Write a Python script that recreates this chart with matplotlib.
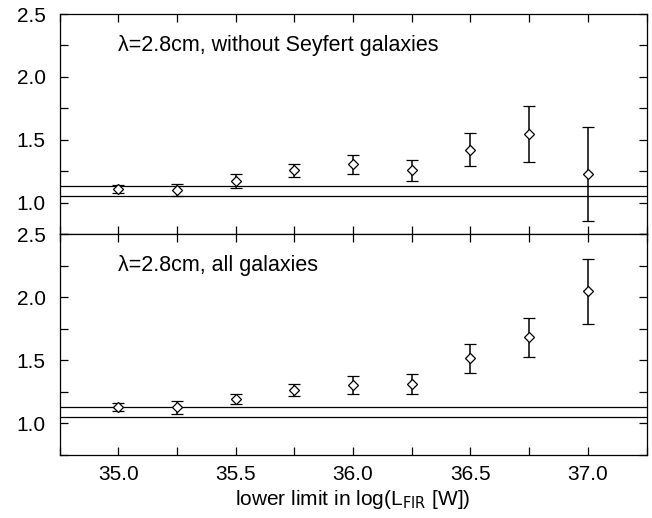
import matplotlib
matplotlib.use("Agg")
import matplotlib.pyplot as plt
from matplotlib.ticker import MultipleLocator

plt.rcParams['font.family'] = ['Liberation Sans', 'DejaVu Sans']

lum_limits = [35.0, 35.25, 35.5, 35.75, 36.0, 36.25, 36.5, 36.75, 37.0]

# lambda=2.8cm, without Seyfert galaxies
ratio_noseyf = [1.11, 1.10, 1.17, 1.26, 1.31, 1.26, 1.42, 1.545, 1.23]
upper_noseyf = [1.14, 1.15, 1.225, 1.31, 1.38, 1.335, 1.55, 1.77, 1.60]
lower_noseyf = [1.08, 1.055, 1.115, 1.20, 1.23, 1.175, 1.29, 1.32, 0.855]

# lambda=2.8cm, all galaxies
ratio_all = [1.13, 1.13, 1.19, 1.265, 1.305, 1.315, 1.515, 1.685, 2.045]
upper_all = [1.16, 1.175, 1.23, 1.315, 1.375, 1.395, 1.63, 1.835, 2.305]
lower_all = [1.10, 1.075, 1.15, 1.215, 1.235, 1.235, 1.40, 1.525, 1.785]

ref_levels = [1.13, 1.05]

panels = [
    ("\u03bb=2.8cm, without Seyfert galaxies", ratio_noseyf, lower_noseyf, upper_noseyf),
    ("\u03bb=2.8cm, all galaxies", ratio_all, lower_all, upper_all),
]

fig = plt.figure(figsize=(6.52, 5.18), dpi=100)
left, width = 59.5 / 652, (646.5 - 59.5) / 652
ax_top = fig.add_axes([left, 1 - 234 / 518, width, 220 / 518])
ax_bot = fig.add_axes([left, 1 - 455 / 518, width, 221 / 518])

for ax, (label, ratio, lo, hi) in zip([ax_top, ax_bot], panels):
    err = [[r - l for r, l in zip(ratio, lo)], [h - r for r, h in zip(ratio, hi)]]
    ax.errorbar(lum_limits, ratio, yerr=err, fmt='D', ms=5.5, mfc='white', mec='black',
                mew=0.9, ecolor='black', elinewidth=1.1, capsize=4.2, capthick=1.1, zorder=3)
    for lvl in ref_levels:
        ax.axhline(lvl, color='black', lw=0.9, zorder=2)
    ax.set_xlim(34.75, 37.25)
    ax.set_ylim(0.75, 2.5)
    ax.yaxis.set_major_locator(MultipleLocator(0.5))
    ax.yaxis.set_minor_locator(MultipleLocator(0.25))
    ax.xaxis.set_major_locator(MultipleLocator(0.5))
    ax.xaxis.set_minor_locator(MultipleLocator(0.25))
    ax.tick_params(which='both', direction='in', top=True, right=True, width=0.9, length=5.5)
    ax.tick_params(which='major', labelsize=15)
    ax.tick_params(axis='y', pad=10)
    ax.set_yticks([1.0, 1.5, 2.0, 2.5])
    ax.set_yticklabels(['1.0', '1.5', '2.0', '2.5'])
    for sp in ax.spines.values():
        sp.set_linewidth(0.9)
    ax.text(35.0, 2.25, label, fontsize=15.5, va='center', ha='left')

ax_top.tick_params(axis='x', which='both', labelbottom=False)
ax_bot.set_xticks([35.0, 35.5, 36.0, 36.5, 37.0])
ax_bot.set_xticklabels(['35.0', '35.5', '36.0', '36.5', '37.0'])
ax_bot.tick_params(axis='x', pad=7)
ax_bot.set_xlabel("lower limit in log(L$_{\\rm FIR}$ [W])", fontsize=15, labelpad=3)

fig.savefig("out.png", dpi=100)
